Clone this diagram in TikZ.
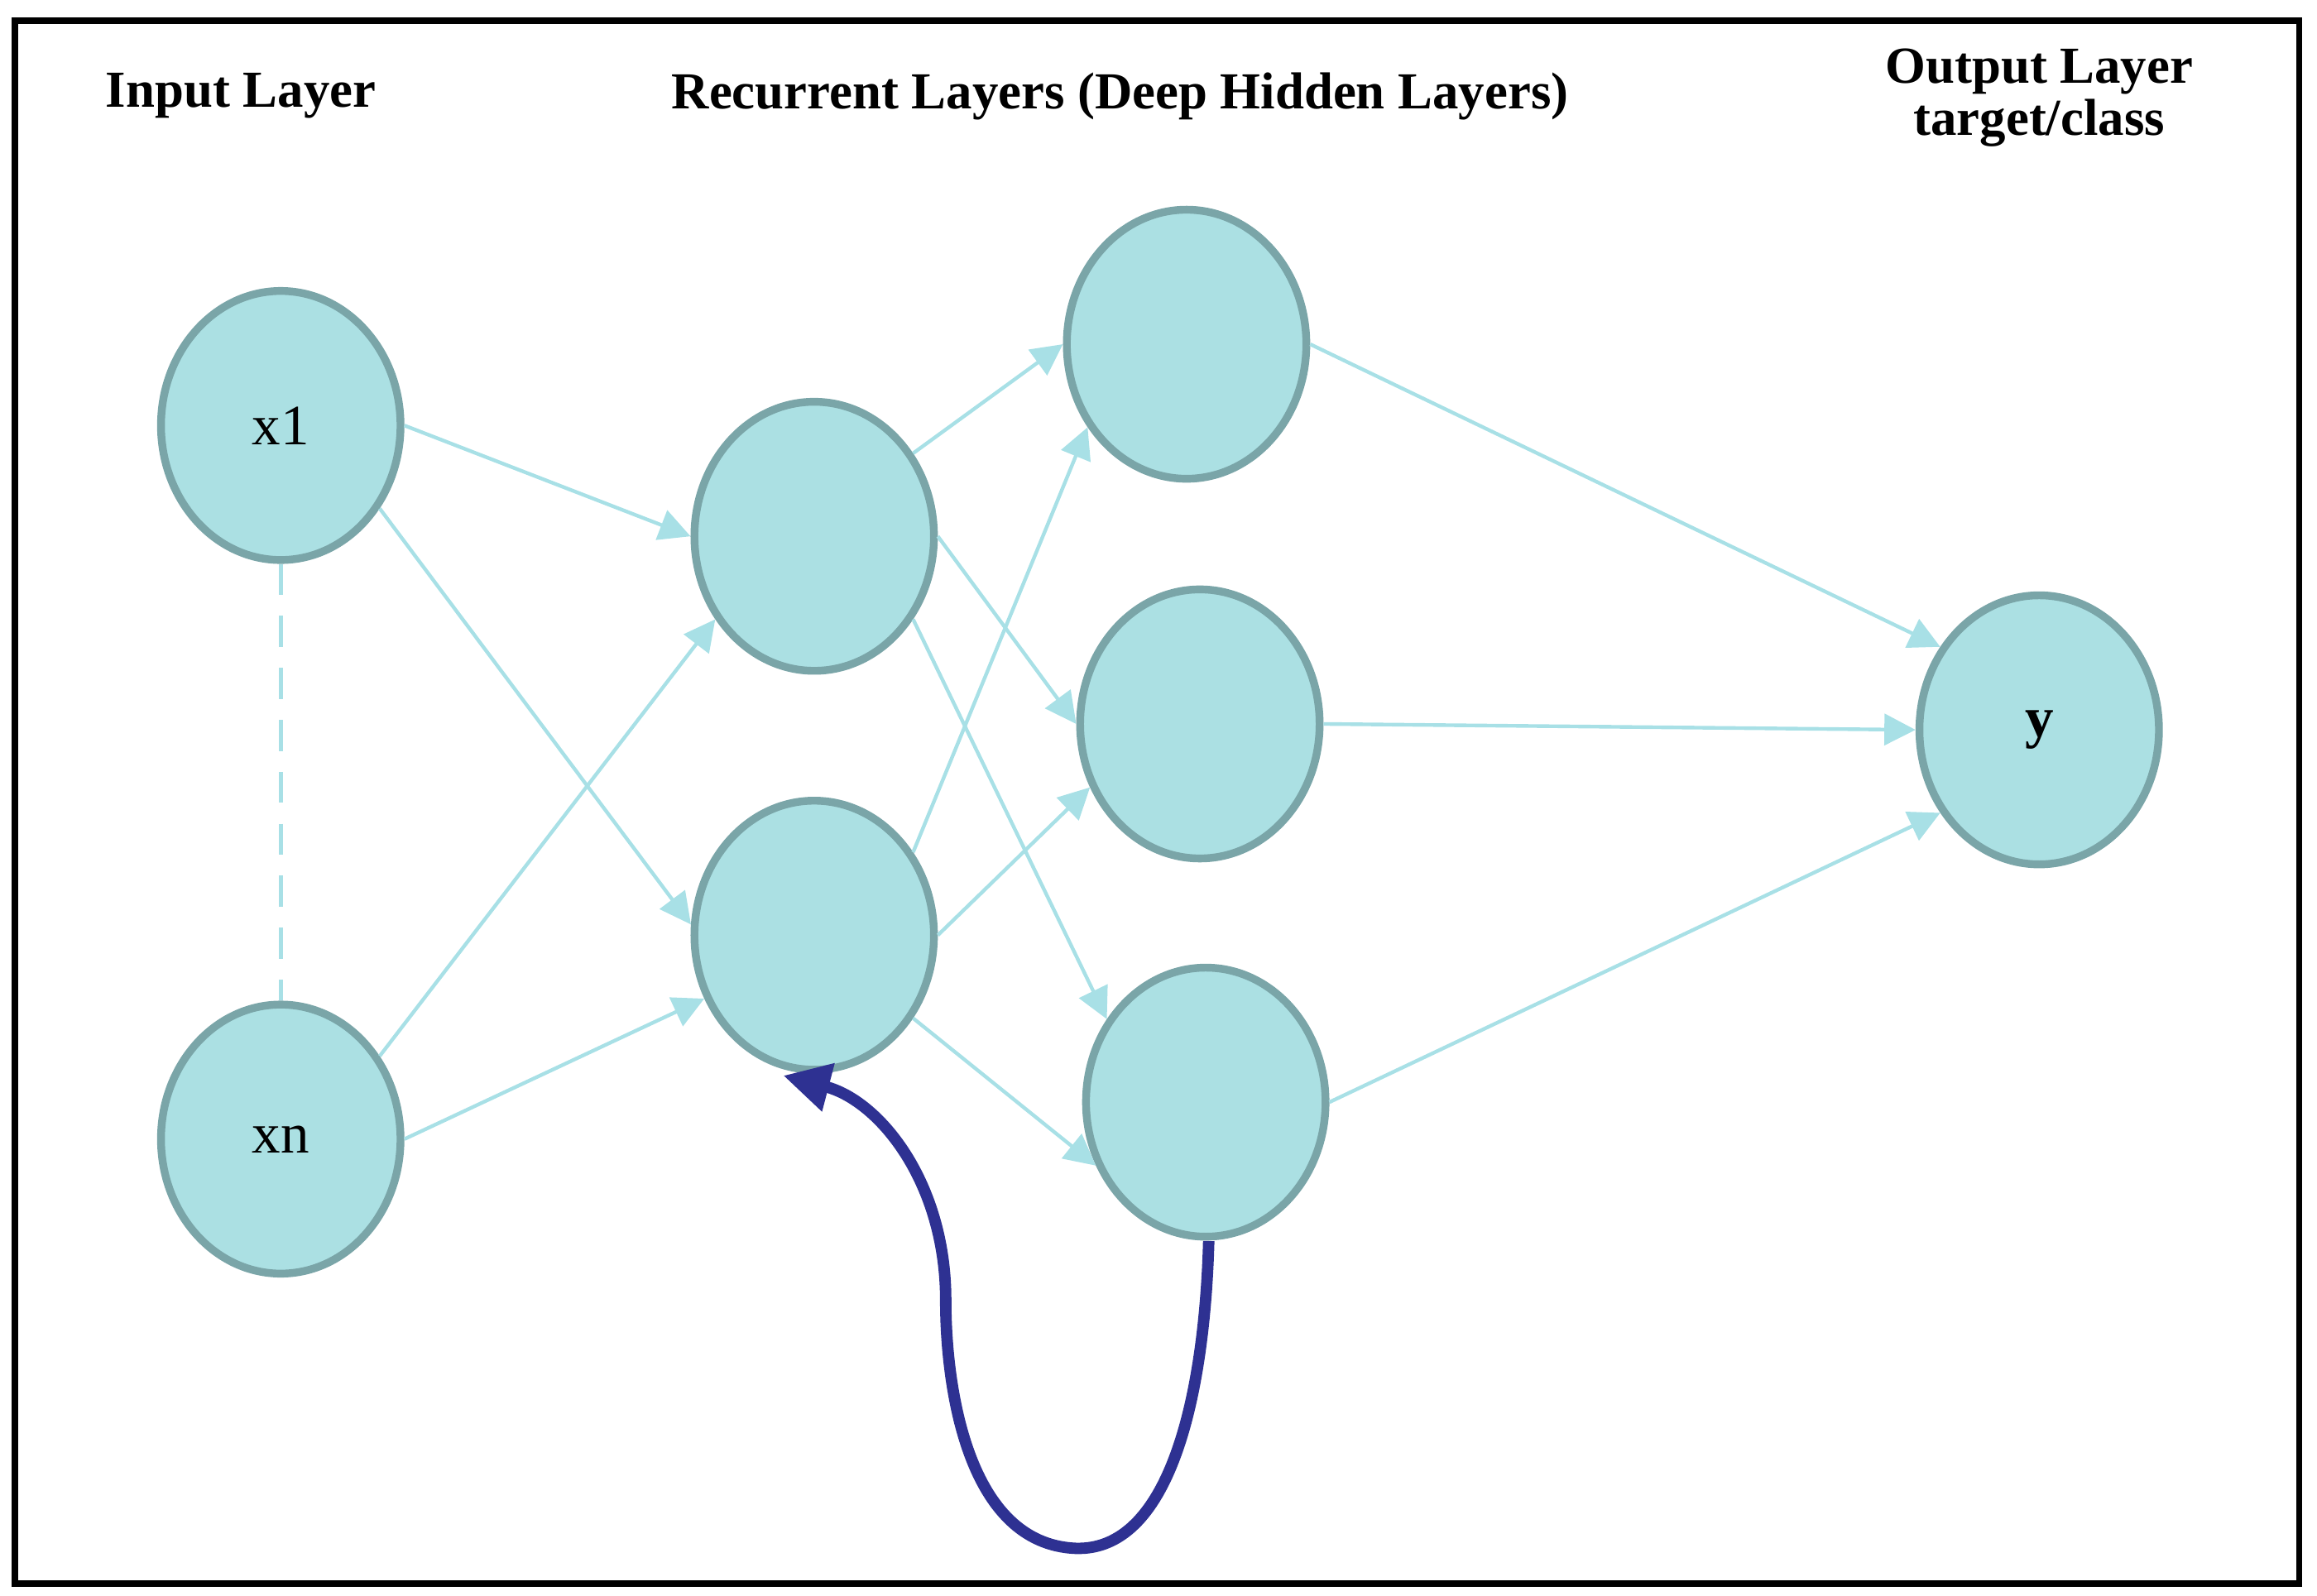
\documentclass[tikz,border=0pt]{standalone}
\usepackage{fontspec}
\setmainfont{Liberation Serif}
\usetikzlibrary{shapes.geometric,arrows.meta}
\definecolor{nfill}{HTML}{ABE0E3}
\definecolor{ndraw}{HTML}{7AA5A8}
\definecolor{edge}{HTML}{A8E0E6}
\definecolor{loopc}{HTML}{2E3192}
\begin{document}
\begin{tikzpicture}[x=0.01cm,y=-0.01cm,
  neuron/.style={ellipse,fill=nfill,draw=ndraw,line width=1.5pt,minimum width=1.62cm,minimum height=1.82cm,inner sep=0pt,font=\fontsize{11}{13}\selectfont},
  conn/.style={draw=edge,line width=0.7pt,-{Triangle[length=6pt,width=6pt]}},
  title/.style={font=\fontsize{10}{12}\selectfont\bfseries,align=center}]
\useasboundingbox (0,0) rectangle (1568,1080);
\draw[line width=1.2pt] (10,14) rectangle (1556,1072);
\node[title] (t1) at (163,65) {Input Layer};
\node[title] (t2) at (758,65) {Recurrent Layers (Deep Hidden Layers)};
\node[title] (t3) at (1380,66) {Output Layer\\[-2pt]target/class};
\node[neuron] (x1) at (190,288) {x1};
\node[neuron] (xn) at (190,771) {xn};
\node[neuron] (a) at (551,363) {};
\node[neuron] (b) at (551,633) {};
\node[neuron] (c) at (803,233) {};
\node[neuron] (d) at (812,490) {};
\node[neuron] (e) at (816,746) {};
\node[neuron] (y) at (1380,494) {\bfseries y};
\draw[edge,line width=0.8pt,dash pattern=on 6pt off 4pt] (x1) -- (xn);
\foreach \s/\sa/\t/\ta in {x1/0/a/180, x1/-40/b/175, xn/40/a/-140, xn/0/b/-150,
  a/40/c/180, a/0/d/180, a/-40/e/140, b/40/c/-140, b/0/d/-150, b/-40/e/-150,
  c/0/y/140, d/0/y/180, e/0/y/-140}
  \draw[conn] (\s.\sa) -- (\t.\ta);
\coordinate (ls) at (818,840);
\coordinate (le) at (530,728);
\draw[loopc,line width=2.2pt,-{Triangle[length=9pt,width=9pt]}] (ls) .. controls (815,950) and (790,1050) .. (728,1048) .. controls (655,1045) and (640,940) .. (640,880) .. controls (640,800) and (595,745) .. (le);
\end{tikzpicture}
\end{document}
